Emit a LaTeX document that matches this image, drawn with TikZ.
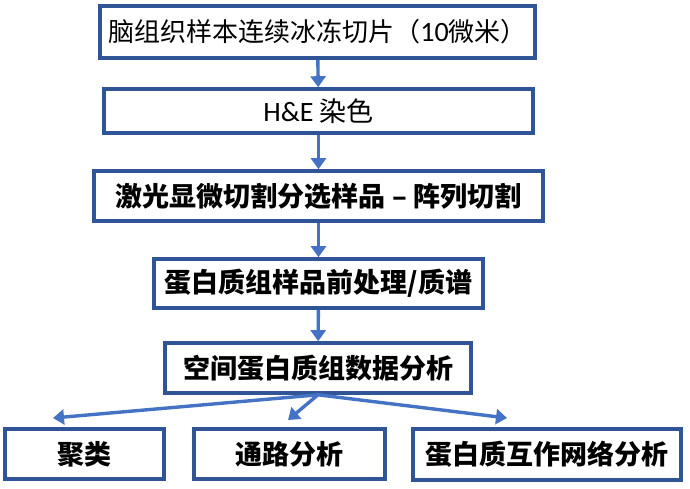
\documentclass[tikz,border=0pt]{standalone}
\usepackage{fontspec}
\setmainfont{Carlito}
\newfontfamily\cjk{Noto Sans CJK SC}
\newfontfamily\lat{Carlito}
\usetikzlibrary{arrows.meta}
\definecolor{boxblue}{HTML}{2F5597}
\definecolor{arrblue}{HTML}{4472C4}
\begin{document}
\begin{tikzpicture}[x=1pt,y=-1pt,
  box/.style={draw=boxblue, line width=3.6pt, fill=white, rectangle, inner sep=0pt, font=\cjk\fontsize{27}{31}\selectfont},
  boldtxt/.style={font=\cjk\bfseries\fontsize{27}{31}\selectfont},
  arr/.style={draw=arrblue, line width=3.4pt, -{Triangle[length=11pt,width=15pt]}}]
\useasboundingbox (0,0) rectangle (690,488);
\fill[white] (0,0) rectangle (690,488);
\node[box, minimum width=435pt, minimum height=52pt, text width=435pt, align=center] (b1) at (317.5,32) {\fontsize{26}{30}\selectfont 脑组织样本连续冰冻切片（{\lat\fontsize{28}{31}\selectfont 10}微米）};
\node[box, minimum width=429pt, minimum height=44pt] (b2) at (318.5,111) {{\lat\fontsize{28}{31}\selectfont H\&E} 染色};
\node[box, boldtxt, minimum width=449pt, minimum height=50pt] (b3) at (318.5,196) {激光显微切割分选样品 – 阵列切割};
\node[box, boldtxt, minimum width=329pt, minimum height=49pt] (b4) at (318.5,283.5) {蛋白质组样品前处理/质谱};
\node[box, boldtxt, minimum width=306pt, minimum height=50pt] (b5) at (318,368) {空间蛋白质组数据分析};
\node[box, boldtxt, minimum width=159pt, minimum height=50pt] (bA) at (84.5,454) {聚类};
\node[box, boldtxt, minimum width=191pt, minimum height=50pt] (bB) at (289.5,454) {通路分析};
\node[box, boldtxt, minimum width=268pt, minimum height=51pt] (bC) at (547,454.5) {蛋白质互作网络分析};
\coordinate (tA) at (53,418);
\coordinate (tB) at (288,420);
\coordinate (tC) at (507,418);
\draw[arr] (b1) -- (b2);
\draw[arr] (b2) -- (b3);
\draw[arr] (b3) -- (b4);
\draw[arr] (b4) -- (b5);
\draw[arr] (b5.south) -- (tA);
\draw[arr] (b5.south) -- (tB);
\draw[arr] (b5.south) -- (tC);
\end{tikzpicture}
\end{document}
